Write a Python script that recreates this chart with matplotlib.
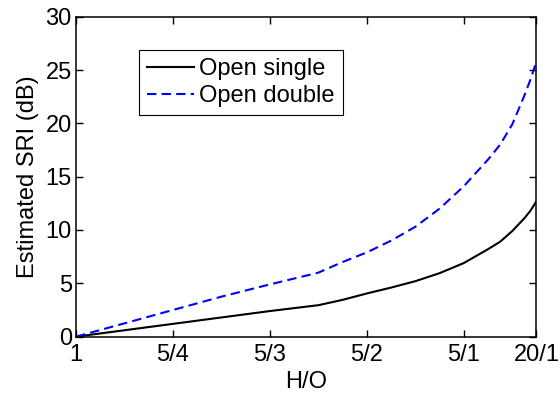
import matplotlib
matplotlib.use("Agg")
import matplotlib.pyplot as plt

plt.rcParams['font.family'] = ['Liberation Sans', 'DejaVu Sans']
plt.rcParams['font.size'] = 17

# x is O/H (axis runs from 1 down to 0.05), labelled as H/O
oh_ratio = [1.0, 0.9, 0.8, 0.7, 0.6, 0.5, 0.45, 0.4, 0.35, 0.3, 0.25, 0.2,
            0.15, 0.125, 0.1, 0.075, 0.0625, 0.05]
open_single = [0, 0.6, 1.2, 1.8, 2.4, 2.95, 3.45, 4.05, 4.6, 5.2, 5.95, 6.9,
               8.2, 8.9, 9.9, 11.1, 11.8, 12.7]
open_double = [0, 1.25, 2.5, 3.75, 4.9, 6.0, 7.0, 7.9, 9.0, 10.3, 12.0, 14.1,
               16.6, 18.0, 19.9, 22.6, 24.1, 25.8]

tick_pos = [1.0, 0.8, 0.6, 0.4, 0.2, 0.05]
tick_labels = ['1', '5/4', '5/3', '5/2', '5/1', '20/1']
y_ticks = [0, 5, 10, 15, 20, 25, 30]

fig = plt.figure(figsize=(5.6, 3.97), dpi=100)
ax = fig.add_axes([0.1357, 0.152, 0.8223, 0.806])

ax.plot(oh_ratio, open_single, '-', color='black', lw=1.5, label='Open single')
ax.plot(oh_ratio, open_double, color='blue', lw=1.5, dashes=(4.5, 2.5), label='Open double')

ax.set_xlim(1.0, 0.05)
ax.set_ylim(0, 30)
ax.set_xticks(tick_pos)
ax.set_xticklabels(tick_labels)
ax.set_yticks(y_ticks)
ax.tick_params(direction='in', length=5, width=1.0, top=True, right=True, pad=3)
ax.tick_params(axis='x', pad=5)
for s in ax.spines.values():
    s.set_linewidth(1.1)

ax.set_xlabel('H/O', labelpad=4)
ax.set_ylabel('Estimated SRI (dB)', labelpad=5)

leg = ax.legend(loc='upper left', bbox_to_anchor=(0.136, 0.896), borderaxespad=0,
                fancybox=False, edgecolor='black', framealpha=1, handlelength=2.0,
                handletextpad=0.2, borderpad=0.35, labelspacing=0.2, fontsize=17)
leg.get_frame().set_linewidth(0.8)

fig.savefig('out.png', dpi=100)
